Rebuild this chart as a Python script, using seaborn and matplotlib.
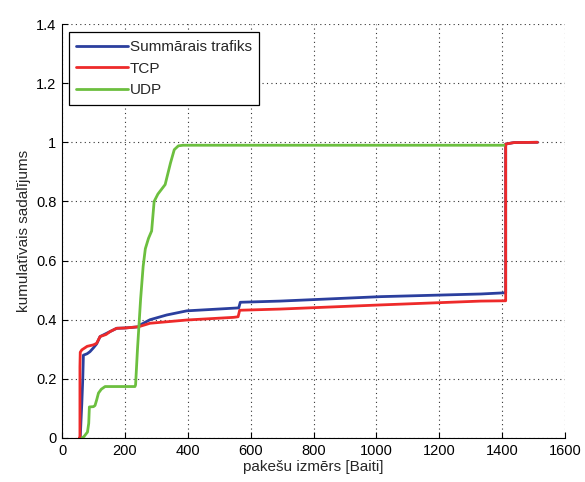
import matplotlib
matplotlib.use("Agg")
import matplotlib.pyplot as plt
import pandas as pd
import seaborn as sns

# packet size [bytes] vs cumulative share
total_x = [58, 60, 63, 66, 68, 80, 89, 100, 110, 121, 153, 174, 200, 243, 248, 280, 333,
           397, 546, 562, 567, 694, 1013, 1332, 1408, 1411, 1411, 1437, 1512]
total_y = [0, 0.05, 0.117, 0.2, 0.28, 0.285, 0.292, 0.305, 0.318, 0.343, 0.36, 0.371, 0.372,
           0.376, 0.382, 0.40, 0.416, 0.43, 0.439, 0.44, 0.459, 0.463, 0.478, 0.487, 0.491,
           0.491, 0.994, 0.999, 1.0]

tcp_x = [55, 57, 57, 58, 63, 80, 100, 110, 121, 140, 153, 174, 200, 243, 280, 333, 397,
         546, 560, 565, 694, 1013, 1332, 1408, 1411, 1411, 1437, 1512]
tcp_y = [0, 0.0, 0.24, 0.29, 0.298, 0.31, 0.315, 0.32, 0.343, 0.35, 0.36, 0.371, 0.372,
         0.376, 0.388, 0.393, 0.399, 0.408, 0.41, 0.432, 0.436, 0.45, 0.463, 0.464, 0.464,
         0.994, 0.999, 1.0]

udp_x = [63, 70, 81, 85, 87, 100, 105, 110, 116, 125, 137, 232, 234, 240, 250, 258, 265,
         275, 285, 293, 305, 328, 345, 357, 370, 385, 1405]
udp_y = [0, 0.005, 0.02, 0.05, 0.105, 0.106, 0.11, 0.128, 0.152, 0.165, 0.174, 0.174, 0.18,
         0.30, 0.47, 0.58, 0.64, 0.675, 0.70, 0.80, 0.825, 0.857, 0.93, 0.975, 0.988, 0.99,
         0.99]

SERIES = [
    ("Summārais trafiks", total_x, total_y, "#2b3f9e"),
    ("TCP", tcp_x, tcp_y, "#ee2a2a"),
    ("UDP", udp_x, udp_y, "#6cbf3f"),
]

sns.set_theme(style="white")
plt.rcParams["font.family"] = ["Liberation Sans", "DejaVu Sans"]

fig = plt.figure(figsize=(5.85, 4.82), dpi=100)
ax = fig.add_axes([0.106, 0.0913, 0.860, 0.8589])

for label, xs, ys, color in SERIES:
    df = pd.DataFrame({"x": xs, "y": ys})
    sns.lineplot(data=df, x="x", y="y", estimator=None, sort=False, label=label,
                 color=color, linewidth=2.0, ax=ax)

ax.set_xlim(0, 1600)
ax.set_ylim(0, 1.4)
ax.set_xticks(range(0, 1601, 200))
ax.set_yticks([0, 0.2, 0.4, 0.6, 0.8, 1.0, 1.2, 1.4])
ax.set_yticklabels(["0", "0.2", "0.4", "0.6", "0.8", "1", "1.2", "1.4"])
ax.grid(True, linestyle=(0, (1, 3)), color="#333333", linewidth=0.8)
ax.tick_params(direction="in", length=4, width=0.8, colors="black", labelsize=10.5,
               bottom=True, left=True, pad=4)
for side in ("top", "right"):
    ax.spines[side].set_visible(False)
for side in ("left", "bottom"):
    ax.spines[side].set_color("black")
    ax.spines[side].set_linewidth(0.8)

ax.set_xlabel("pakešu izmērs [Baiti]", fontsize=11, labelpad=2)
ax.set_ylabel("kumulatīvais sadalījums", fontsize=11, labelpad=4)

leg = ax.legend(loc="upper left", bbox_to_anchor=(0.013, 0.98), fontsize=11,
                fancybox=False, framealpha=1, edgecolor="black", handlelength=3.4,
                handletextpad=0.1, borderpad=0.5, labelspacing=0.5, borderaxespad=0)
leg.get_frame().set_linewidth(0.9)

fig.savefig("out.png", dpi=100)
